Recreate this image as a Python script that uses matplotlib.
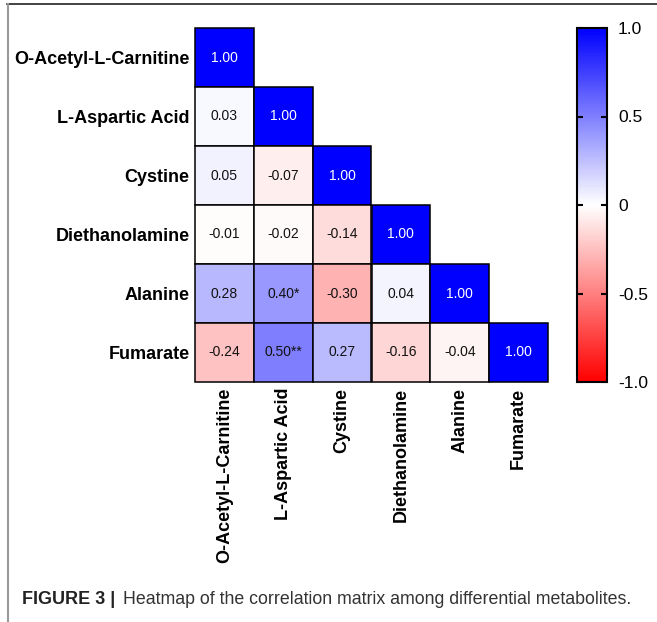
import numpy as np
import matplotlib.pyplot as plt
from matplotlib.colors import LinearSegmentedColormap, Normalize
from matplotlib.patches import Rectangle
from matplotlib.cm import ScalarMappable

plt.rcParams['font.family'] = ['Liberation Sans', 'DejaVu Sans']

metabolites = ["O-Acetyl-L-Carnitine", "L-Aspartic Acid", "Cystine",
               "Diethanolamine", "Alanine", "Fumarate"]

# lower triangle of the correlation matrix, row by row
corr_rows = [
    [1.00],
    [0.03, 1.00],
    [0.05, -0.07, 1.00],
    [-0.01, -0.02, -0.14, 1.00],
    [0.28, 0.40, -0.30, 0.04, 1.00],
    [-0.24, 0.50, 0.27, -0.16, -0.04, 1.00],
]
stars_rows = [
    [""],
    ["", ""],
    ["", "", ""],
    ["", "", "", ""],
    ["", "*", "", "", ""],
    ["", "**", "", "", "", ""],
]
cbar_ticks = [-1.0, -0.5, 0, 0.5, 1.0]
cbar_labels = ["-1.0", "-0.5", "0", "0.5", "1.0"]

n = len(metabolites)
cmap = LinearSegmentedColormap.from_list("rwb", ["#ff0000", "#ffffff", "#0000ff"])
norm = Normalize(vmin=-1, vmax=1)

W, H = 657, 622
fig = plt.figure(figsize=(W / 100, H / 100), dpi=100)

# outer frame lines
fig.add_artist(plt.Line2D([7 / W, 1], [1 - 4 / H, 1 - 4 / H], color="#222222", lw=1.2))
fig.add_artist(plt.Line2D([7.5 / W, 7.5 / W], [0, 1 - 4 / H], color="#999999", lw=1.5))

ax = fig.add_axes([195 / W, 1 - 382 / H, (548 - 195) / W, (382 - 28) / H])
ax.set_xlim(0, n)
ax.set_ylim(n, 0)
for s in ax.spines.values():
    s.set_visible(False)

for i, row in enumerate(corr_rows):
    for j, v in enumerate(row):
        ax.add_patch(Rectangle((j, i), 1, 1, facecolor=cmap(norm(v)),
                               edgecolor="black", linewidth=1.1, clip_on=False))
        col = "white" if v > 0.8 else "#111111"
        ax.text(j + 0.5, i + 0.5, f"{v:.2f}{stars_rows[i][j]}", ha="center",
                va="center", fontsize=10, color=col)

ax.set_xticks(np.arange(n) + 0.5)
ax.set_yticks(np.arange(n) + 0.5)
ax.set_xticklabels(metabolites, rotation=90, fontsize=13, fontweight="bold")
ax.set_yticklabels(metabolites, fontsize=13, fontweight="bold")
ax.tick_params(length=0, pad=4)

cax = fig.add_axes([577 / W, 1 - 382 / H, 30 / W, (382 - 28) / H])
cb = fig.colorbar(ScalarMappable(norm=norm, cmap=cmap), cax=cax, ticks=cbar_ticks)
cb.set_ticklabels(cbar_labels)
cb.outline.set_linewidth(1.5)
cax.tick_params(direction="in", left=True, right=True, length=4, width=1.5,
                labelsize=12.5, pad=8)

fig.text(22 / W, 1 - 600 / H, "FIGURE 3 |", fontsize=13, fontweight="bold",
         va="center", color="#222222")
fig.text(123 / W, 1 - 600 / H, "Heatmap of the correlation matrix among differential metabolites.",
         fontsize=12.8, va="center", color="#333333")

fig.savefig("out.png", dpi=100)
